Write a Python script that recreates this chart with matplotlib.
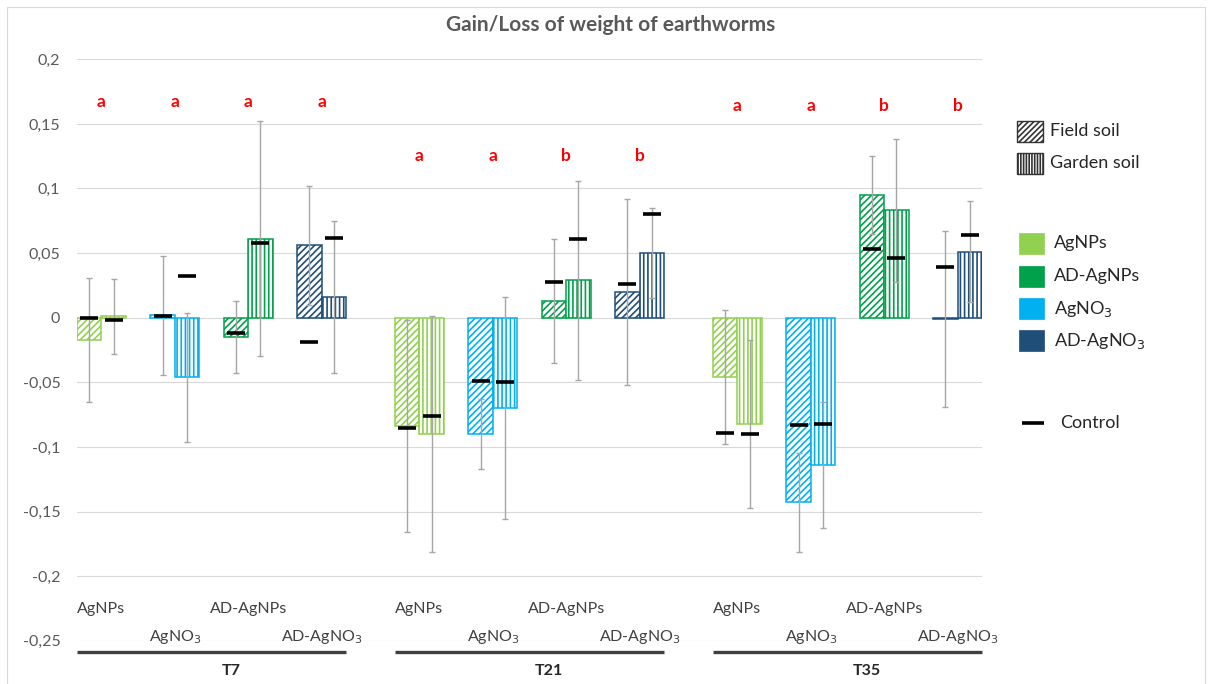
import numpy as np
import matplotlib
matplotlib.use("Agg")
import matplotlib.pyplot as plt
from matplotlib.patches import Rectangle
from matplotlib.lines import Line2D

plt.rcParams['font.family'] = ['Lato', 'DejaVu Sans']
plt.rcParams['hatch.linewidth'] = 1.2

# data
groups = ['T7', 'T21', 'T35']
treatments = ['AgNPs', 'AgNO$_3$', 'AD-AgNPs', 'AD-AgNO$_3$']
treat_colors = ['#92D050', '#00B0F0', '#00A14B', '#1F4E79']
soil_legend = ['Field soil', 'Garden soil']
treat_legend = ['AgNPs', 'AD-AgNPs', 'AgNO$_3$', 'AD-AgNO$_3$']
treat_legend_colors = ['#92D050', '#00A14B', '#00B0F0', '#1F4E79']

field_mean = [-0.017, 0.002, -0.015, 0.056,
              -0.084, -0.090, 0.013, 0.020,
              -0.046, -0.143, 0.095, -0.001]
field_err = [0.048, 0.046, 0.028, 0.046,
             0.082, 0.027, 0.048, 0.072,
             0.052, 0.038, 0.030, 0.068]
field_ctrl = [0.000, 0.001, -0.012, -0.019,
              -0.085, -0.049, 0.028, 0.026,
              -0.089, -0.083, 0.053, 0.039]

garden_mean = [0.001, -0.046, 0.061, 0.016,
               -0.090, -0.070, 0.029, 0.050,
               -0.082, -0.114, 0.083, 0.051]
garden_err = [0.029, 0.050, 0.091, 0.059,
              0.091, 0.086, 0.077, 0.035,
              0.065, 0.049, 0.055, 0.039]
garden_ctrl = [-0.002, 0.032, 0.058, 0.062,
               -0.076, -0.050, 0.061, 0.080,
               -0.090, -0.082, 0.046, 0.064]

letters = ['a', 'a', 'a', 'a',
           'a', 'a', 'b', 'b',
           'a', 'a', 'b', 'b']
letter_y = [0.167, 0.125, 0.164]

yticks = [0.2, 0.15, 0.1, 0.05, 0, -0.05, -0.1, -0.15, -0.2, -0.25]
ytick_labels = ['0,2', '0,15', '0,1', '0,05', '0', '-0,05', '-0,1', '-0,15', '-0,2', '-0,25']

W, H = 1212, 684

def px(x, y):
    # pixel position (from top-left) -> figure fraction
    return x / W, 1 - y / H

# layout: each category = 3 slots (field, garden, gap), one extra slot between groups
n_t = len(treatments)
starts = np.array([g * 13 + i * 3 for g in range(len(groups)) for i in range(n_t)], dtype=float)
x_field = starts + 0.5
x_garden = starts + 1.5
cols = [treat_colors[i % n_t] for i in range(len(starts))]

fig = plt.figure(figsize=(W / 100, H / 100), dpi=100)
ax = fig.add_axes([77/W, 43.3/H, 905/W, 581.4/H])

ax.bar(x_field, field_mean, width=1.0, color='white', edgecolor=cols,
       hatch='/////', linewidth=1.1, zorder=2)
ax.bar(x_garden, garden_mean, width=1.0, color='white', edgecolor=cols,
       hatch='||||', linewidth=1.1, zorder=2)

ax.errorbar(x_field, field_mean, yerr=field_err, fmt='none', ecolor='#A6A6A6',
            elinewidth=1.0, capsize=2.5, capthick=1.0, zorder=3)
ax.errorbar(x_garden, garden_mean, yerr=garden_err, fmt='none', ecolor='#A6A6A6',
            elinewidth=1.0, capsize=2.5, capthick=1.0, zorder=3)

ax.plot(x_field, field_ctrl, ls='none', marker='_', ms=13.5, mew=2.6, color='black', zorder=4)
ax.plot(x_garden, garden_ctrl, ls='none', marker='_', ms=13.5, mew=2.6, color='black', zorder=4)

# significance letters
for k in range(len(starts)):
    ax.text(starts[k] + 1.0, letter_y[k // n_t], letters[k], color='#FF0000',
            fontsize=12.5, fontweight='bold', ha='center', va='center')

ax.set_xlim(0, 37)
ax.set_ylim(-0.25, 0.2)
ax.set_yticks(yticks)
ax.set_yticklabels(ytick_labels)
ax.tick_params(axis='y', length=0, pad=12, labelsize=11.5, labelcolor='#595959')
ax.set_xticks([])
ax.grid(axis='y', color='#D9D9D9', linewidth=0.8, zorder=0)
ax.set_axisbelow(True)
for s in ax.spines.values():
    s.set_visible(False)

# category labels in two staggered rows, group lines and group names
tr = ax.get_xaxis_transform()
for k in range(len(starts)):
    i = k % n_t
    yy = 0.0545 if i % 2 == 0 else 0.007
    ax.text(starts[k] + 1.0, yy, treatments[i], transform=tr, ha='center', va='center',
            fontsize=11.5, color='#404040', clip_on=False)
for g, name in enumerate(groups):
    ax.plot([g * 13, g * 13 + 11], [-0.019, -0.019], transform=tr, color='#404040',
            lw=2.4, clip_on=False, solid_capstyle='butt')
    ax.text(g * 13 + 6.3, -0.0516, name, transform=tr, ha='center', va='center',
            fontsize=11.5, fontweight='bold', color='#262626', clip_on=False)

fig.text(*px(611, 25), 'Gain/Loss of weight of earthworms', ha='center', va='center',
         fontsize=15, fontweight='bold', color='#595959')

# legends, drawn by hand at fixed spots
for lab, hatch, yc in zip(soil_legend, ['//////', '||||||'], [131, 163]):
    x0, y0 = px(1017, yc + 10.5)
    fig.patches.append(Rectangle((x0, y0), 26 / W, 21 / H, transform=fig.transFigure,
                                 facecolor='white', edgecolor='#333333', hatch=hatch, lw=1.0))
    fig.text(*px(1050, yc), lab, ha='left', va='center', fontsize=13, color='#262626')

for lab, c, yc in zip(treat_legend, treat_legend_colors, [243, 276, 309, 341]):
    x0, y0 = px(1019, yc + 10.5)
    fig.patches.append(Rectangle((x0, y0), 25 / W, 21 / H, transform=fig.transFigure,
                                 facecolor=c, edgecolor=c, lw=0.5))
    fig.text(*px(1054, yc), lab, ha='left', va='center', fontsize=13, color='#262626')

lx0, ly = px(1022, 423)
lx1, _ = px(1044, 423)
fig.add_artist(Line2D([lx0, lx1], [ly, ly], transform=fig.transFigure, color='black',
                      lw=2.6, solid_capstyle='butt'))
fig.text(*px(1060, 423), 'Control', ha='left', va='center', fontsize=13, color='#262626')

# chart area border
fig.patches.append(Rectangle(px(7, 720), 1198 / W, 713 / H, transform=fig.transFigure,
                             fill=False, edgecolor='#D9D9D9', linewidth=0.8))

fig.savefig('out.png', dpi=100)
